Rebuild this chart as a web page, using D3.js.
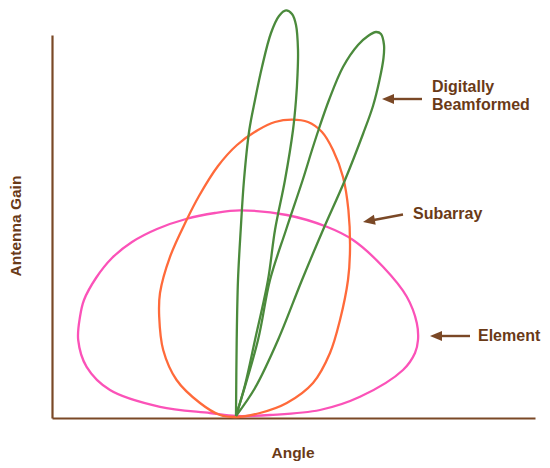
<!DOCTYPE html>
<html>
<head>
<meta charset="utf-8">
<script src="https://cdn.jsdelivr.net/npm/d3@7"></script>
<style>
  html, body { margin: 0; padding: 0; background: #ffffff; }
  svg { display: block; }
  text { font-family: "Liberation Sans", Arial, Helvetica, sans-serif; font-weight: bold; }
</style>
</head>
<body>
<svg id="chart" width="550" height="468"></svg>
<script>
// ---- data: [angle, gain] pairs (arbitrary units) ----
const elementPattern = [
  [0, 0.5], [-13, 1.25], [-38, 2.8], [-63, 7], [-74.7, 12.8], [-78.9, 19.5],
  [-78, 25.3], [-76, 29.5], [-70, 35], [-62, 40], [-52, 44], [-39.5, 47.25],
  [-25, 49.75], [-10.5, 51.25], [2, 51.9],
  [25.4, 50.75], [45.4, 47.8], [58.5, 44.5], [73.5, 37.8], [85.4, 30.3],
  [90.4, 23.75], [91, 19.5], [89.5, 16.25], [83.5, 12], [62, 5.3], [42, 2], [17, 0.75]
];
const subarrayPattern = [
  [0, 0.25], [-8, 0.75], [-18, 3.75], [-29.7, 9.5], [-36.4, 17], [-38.4, 25.3],
  [-38, 31.25], [-33, 40.3], [-24.7, 49.5], [-18.5, 55.5], [-9, 63], [0.5, 68.25],
  [11, 72], [19.5, 74], [28, 74.6], [36, 74], [43, 71.5], [48.5, 67], [53.5, 60.25],
  [56.2, 52], [57, 42], [56, 34.5], [52, 24.5], [47, 16.25], [38.5, 8.75], [25.4, 3.75], [12, 1.25]
];
const beamAPattern = [
  [0, 0.5], [0.35, 19.5], [1, 34.5], [2.35, 47], [4, 59.5], [6.65, 72], [9.5, 79.5],
  [13, 87.75], [17.5, 96.25], [21.5, 100.5], [25, 101.9], [28, 101], [30, 98.25],
  [31, 92], [30.75, 85.75], [30, 79.5], [28.5, 72], [24.5, 59.5], [19.5, 47],
  [16, 34.5], [9.5, 19.5], [4.5, 8.25], [0, 0.5]
];
const beamBPattern = [
  [0, 0.5], [11, 19.5], [17, 34.5], [25, 47], [33.35, 59.5], [38, 67], [41.25, 72],
  [46.5, 79.5], [53.5, 87.75], [61, 93.25], [66, 95.5], [70, 96.5], [72.5, 96],
  [74, 93.25], [73.75, 90], [71.75, 84.5], [68.5, 78], [63.5, 71], [54.5, 59.5], [43.5, 47],
  [33, 34.5], [21, 19.5], [9.5, 7.5], [0, 0.5]
];
const seriesNames = ["Element", "Subarray", "Digitally Beamformed"];
const axisTitles = ["Angle", "Antenna Gain"];

// ---- scales ----
const x = d3.scaleLinear().domain([-92, 149.5]).range([52, 535]);
const y = d3.scaleLinear().domain([0, 95.75]).range([418, 35]);

const svg = d3.select("#chart");
const brown = "#7a4826";
const textBrown = "#6a3a17";

// axes (no ticks)
svg.append("g").attr("transform", `translate(0,${y(0)})`)
  .call(d3.axisBottom(x).tickValues([]).tickSizeOuter(0));
svg.append("g").attr("transform", `translate(${x(-92)},0)`)
  .call(d3.axisLeft(y).tickValues([]).tickSizeOuter(0));
svg.selectAll(".domain").attr("stroke", brown).attr("stroke-width", 2.2);

const closedLine = d3.line().x(d => x(d[0])).y(d => y(d[1])).curve(d3.curveCatmullRomClosed.alpha(0.5));
const openLine = d3.line().x(d => x(d[0])).y(d => y(d[1])).curve(d3.curveCatmullRom.alpha(0.5));

const lw = 2.3;
svg.append("path").datum(elementPattern).attr("d", closedLine)
  .attr("fill", "none").attr("stroke", "#fb52b8").attr("stroke-width", lw);
svg.append("path").datum(subarrayPattern).attr("d", closedLine)
  .attr("fill", "none").attr("stroke", "#ff6a3a").attr("stroke-width", lw);
svg.append("path").datum(beamAPattern).attr("d", openLine)
  .attr("fill", "none").attr("stroke", "#4b8a3c").attr("stroke-width", lw).attr("stroke-linejoin", "miter");
svg.append("path").datum(beamBPattern).attr("d", openLine)
  .attr("fill", "none").attr("stroke", "#4b8a3c").attr("stroke-width", lw).attr("stroke-linejoin", "miter");

// arrows: tip -> tail
function arrow(tx, ty, sx, sy) {
  const ang = Math.atan2(sy - ty, sx - tx);
  const hl = 12, hw = 5;
  const bx = tx + hl * Math.cos(ang), by = ty + hl * Math.sin(ang);
  svg.append("line").attr("x1", bx - Math.cos(ang)).attr("y1", by - Math.sin(ang))
    .attr("x2", sx).attr("y2", sy).attr("stroke", brown).attr("stroke-width", 2.4);
  const px = -Math.sin(ang) * hw, py = Math.cos(ang) * hw;
  svg.append("path")
    .attr("d", `M${tx},${ty} L${bx + px},${by + py} L${bx - px},${by - py} Z`)
    .attr("fill", brown);
}
arrow(382, 99, 422, 99);
arrow(363, 222, 403, 214.5);
arrow(430, 336, 470, 336);

const ann = svg.append("g").attr("fill", textBrown).attr("font-size", 16);
ann.append("text").attr("x", 432).attr("y", 92).text("Digitally");
ann.append("text").attr("x", 432).attr("y", 109.5).text("Beamformed");
ann.append("text").attr("x", 413).attr("y", 218.5).text(seriesNames[1]);
ann.append("text").attr("x", 478).attr("y", 341).text(seriesNames[0]);

svg.append("text").attr("x", 293).attr("y", 458).attr("text-anchor", "middle")
  .attr("fill", textBrown).attr("font-size", 15.5).text(axisTitles[0]);
svg.append("text").attr("transform", "translate(20.5,226) rotate(-90)")
  .attr("text-anchor", "middle").attr("fill", textBrown).attr("font-size", 15.5).text(axisTitles[1]);
</script>
</body>
</html>
